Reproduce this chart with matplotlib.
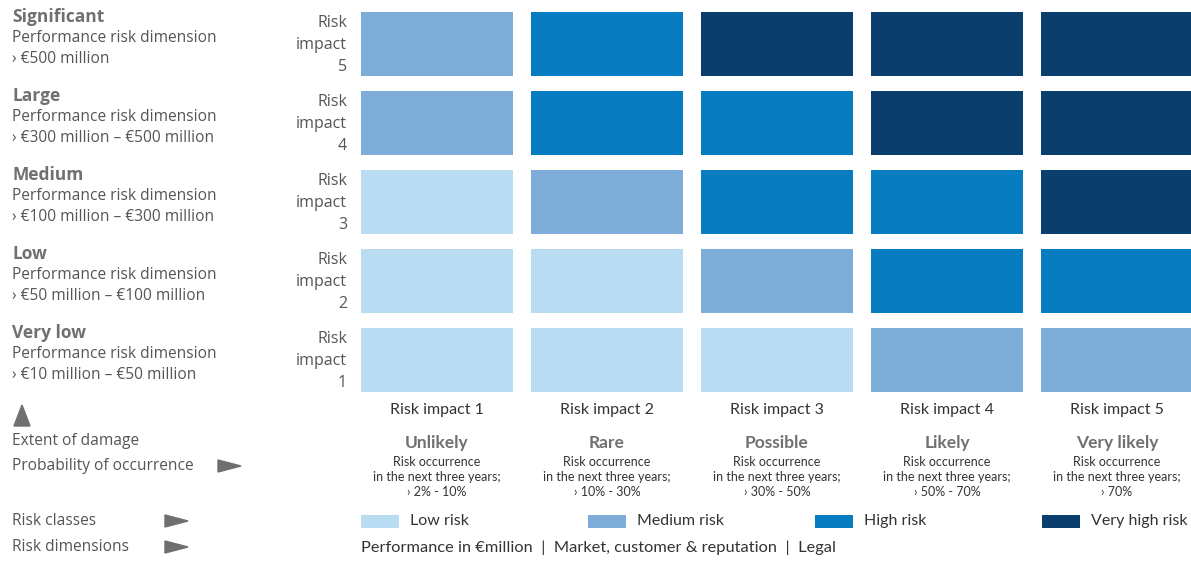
import matplotlib
matplotlib.use("Agg")
import matplotlib.pyplot as plt
from matplotlib.patches import Polygon

# risk class per cell: rows = impact 5..1 (top to bottom), cols = probability 1..5
impact_levels = [5, 4, 3, 2, 1]
matrix = [
    [1, 2, 3, 3, 3],
    [1, 2, 2, 3, 3],
    [0, 1, 2, 2, 3],
    [0, 0, 1, 2, 2],
    [0, 0, 0, 1, 1],
]
class_names = ["Low risk", "Medium risk", "High risk", "Very high risk"]
class_colors = ["#badcf2", "#7dadd8", "#077cc1", "#0a3e6d"]

damage_titles = ["Significant", "Large", "Medium", "Low", "Very low"]
damage_ranges = ["› €500 million", "› €300 million – €500 million",
                 "› €100 million – €300 million", "› €50 million – €100 million",
                 "› €10 million – €50 million"]
prob_titles = ["Unlikely", "Rare", "Possible", "Likely", "Very likely"]
prob_ranges = ["› 2% - 10%", "› 10% - 30%", "› 30% - 50%", "› 50% - 70%", "› 70%"]
dimensions = "Performance in €million  |  Market, customer & reputation  |  Legal"

GREY = "#555555"
TGREY = "#707070"
NARROW = ["Lato", "DejaVu Sans"]
MAIN = ["Open Sans", "DejaVu Sans"]

fig = plt.figure(figsize=(11.91, 5.62), dpi=100)
ax = fig.add_axes([0, 0, 1, 1])
ax.set_xlim(0, 1191)
ax.set_ylim(562, 0)
ax.axis("off")

x0, cw, cgap = 361, 152, 18
y0, rh, rgap = 12, 64, 15

for i, row in enumerate(matrix):
    lefts = [x0 + j * (cw + cgap) for j in range(len(row))]
    ax.bar(lefts, [rh] * len(row), width=cw, bottom=y0 + i * (rh + rgap),
           align="edge", color=[class_colors[c] for c in row], linewidth=0)
    yc = y0 + i * (rh + rgap) + rh / 2
    ax.text(347, yc + 1, f"Risk\nimpact\n{impact_levels[i]}", ha="right", va="center",
            fontsize=11.5, color=GREY, family=MAIN, linespacing=1.5)
    # left descriptions
    ty = 17 + i * 79
    ax.text(12, ty, damage_titles[i], ha="left", va="center", fontsize=12.5,
            fontweight="bold", color=TGREY, family=MAIN)
    ax.text(12, ty + 21, "Performance risk dimension", ha="left", va="center",
            fontsize=11.2, color=GREY, family=MAIN)
    ax.text(12, ty + 42, damage_ranges[i], ha="left", va="center",
            fontsize=11.2, color=GREY, family=MAIN)

for j in range(5):
    xc = x0 + j * (cw + cgap) + cw / 2
    ax.text(xc, 410, f"Risk impact {j + 1}", ha="center", va="center",
            fontsize=11.5, color="#333333", family=NARROW)
    ax.text(xc, 443, prob_titles[j], ha="center", va="center",
            fontsize=12.5, fontweight="bold", color=TGREY, family=NARROW)
    ax.text(xc, 477, "Risk occurrence\nin the next three years;\n" + prob_ranges[j],
            ha="center", va="center", fontsize=9, color="#333333",
            family=NARROW, linespacing=1.25)

# legend
leg_x = [361, 588, 815, 1042]
for k, name in enumerate(class_names):
    ax.bar(leg_x[k], 13, width=38, bottom=515, align="edge",
           color=class_colors[k], linewidth=0)
    ax.text(leg_x[k] + 49, 521, name, ha="left", va="center", fontsize=11.5,
            color="#333333", family=NARROW)

ax.text(361, 548, dimensions, ha="left", va="center", fontsize=11.8,
        color="#333333", family=NARROW)

# bottom-left legend text
ax.text(12, 441, "Extent of damage", ha="left", va="center", fontsize=11.2,
        color=GREY, family=MAIN)
ax.text(12, 466, "Probability of occurrence", ha="left", va="center", fontsize=11.2,
        color=GREY, family=MAIN)
ax.text(12, 521, "Risk classes", ha="left", va="center", fontsize=11.2,
        color=GREY, family=MAIN)
ax.text(12, 547, "Risk dimensions", ha="left", va="center", fontsize=11.2,
        color=GREY, family=MAIN)

tri = "#6f6f6f"
ax.add_patch(Polygon([[14, 426], [30, 426], [22, 405]], closed=True, color=tri))
for (tx, ty) in [(218, 466), (165, 521), (165, 547)]:
    ax.add_patch(Polygon([[tx, ty - 6], [tx, ty + 6], [tx + 23, ty]],
                         closed=True, color=tri))

fig.savefig("out.png", dpi=100)
